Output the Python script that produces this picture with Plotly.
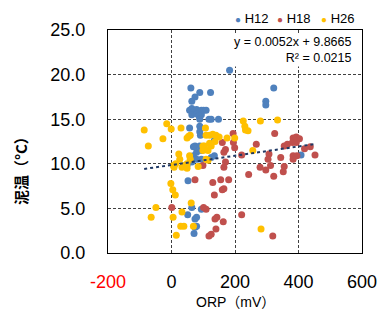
import plotly.graph_objects as go

# ---- data ----
h12_x = [183, 61, 89, 123, 74, 64, 57, 64, 71, 79, 86, 94, 101, 109, 64, 79, 94, 86,
         89, 118, 125, 148, 322, 297, 297, 57, 89, 89, 91, 135, 69, 74, 89, 79, 69, 79,
         94, 94, 135, 125, 49, 64, 408, 52, 64, 51, 74, 79, 74, 71, 94, 79]
h12_y = [20.5, 18.5, 18.0, 18.0, 17.5, 17.0, 16.0, 16.2, 15.9, 16.1, 15.9, 16.0, 16.0, 16.0,
         15.5, 15.6, 15.5, 15.4, 15.0, 15.0, 15.0, 15.0, 18.5, 17.0, 16.6, 14.0, 14.2, 13.6,
         13.2, 12.6, 11.9, 12.0, 12.0, 11.3, 10.9, 10.5, 10.5, 11.5, 10.9, 10.7, 9.8, 10.2,
         11.0, 8.1, 5.1, 4.3, 3.8, 4.0, 2.9, 2.2, 4.9, 3.0]

h18_x = [194, 325, 383, 393, 403, 381, 393, 365, 355, 267, 195, 160, 170, 199, 419, 437,
         452, 344, 383, 395, 383, 307, 304, 221, 165, 170, 99, 312, 297, 355, 352, 322,
         279, 243, 74, 130, 155, 180, 160, 165, 135, 165, 1, 101, 109, 143, 137, 163, 140,
         125, 118, 221, 319]
h18_y = [13.4, 13.4, 12.9, 13.0, 12.8, 12.4, 12.4, 12.2, 12.0, 12.2, 12.4, 12.4, 11.6, 11.8,
         11.7, 11.9, 11.0, 10.7, 10.9, 10.9, 10.5, 11.1, 10.5, 11.0, 11.3, 10.2, 9.8, 9.8,
         9.3, 9.7, 9.1, 8.6, 9.6, 8.8, 8.2, 7.9, 8.2, 8.2, 7.1, 7.2, 6.5, 9.6, 5.1, 5.1,
         4.9, 4.0, 3.8, 3.5, 2.7, 2.1, 1.9, 4.3, 1.9]

h26_x = [-86, -73, -27, -15, -1, 30, 49, 59, 54, 23, 26, 57, 59, 226, 280, 334, 231, 233,
         241, 107, 109, 120, 130, 140, 150, 175, 199, 256, 120, 137, 99, 115, 125, 104,
         109, 6, 39, 49, 13, 8, 33, 49, 84, 115, -2, 4, 12, -49, 62, -64, 5, 33, 29, 39,
         69, 15, 282, 99]
h26_y = [13.8, 12.0, 12.8, 14.5, 13.9, 14.0, 12.9, 13.2, 13.1, 11.1, 10.5, 10.9, 10.5, 14.8,
         14.8, 14.9, 14.2, 13.8, 13.7, 14.0, 13.2, 13.2, 13.3, 13.2, 13.0, 12.9, 12.9, 11.5,
         12.3, 12.5, 12.0, 11.5, 12.0, 12.0, 10.5, 9.8, 9.8, 10.0, 10.0, 9.6, 9.6, 9.5, 9.7,
         10.4, 7.8, 7.1, 6.5, 5.1, 5.6, 4.0, 4.0, 4.6, 3.0, 3.0, 3.0, 2.0, 2.7, 11.5]

series_names = ["H12", "H18", "H26"]
series_colors = ["#4F81BD", "#C0504D", "#FFC000"]

trend_slope = 0.0052
trend_intercept = 9.8665

x_ticks = [-200, 0, 200, 400, 600]
x_tick_labels = ["<span style='color:#FF0000'>-200</span>", "0", "200", "400", "600"]
y_ticks = [0, 5, 10, 15, 20, 25]
y_tick_labels = ["0.0", "5.0", "10.0", "15.0", "20.0", "25.0"]

# ---- figure ----
fig = go.Figure()
for xs, ys, name, col in zip([h12_x, h18_x, h26_x], [h12_y, h18_y, h26_y],
                             series_names, series_colors):
    fig.add_trace(go.Scatter(x=xs, y=ys, mode="markers", name=name,
                             marker=dict(color=col, size=7, line=dict(width=0)),
                             showlegend=False))

all_x = h12_x + h18_x + h26_x
tx = [min(all_x), max(all_x)]
ty = [trend_slope * v + trend_intercept for v in tx]
fig.add_trace(go.Scatter(x=tx, y=ty, mode="lines", name="trend",
                         line=dict(color="#1F3864", width=2, dash="dot"),
                         showlegend=False))

base_font = "Liberation Sans, Arial, Noto Sans CJK JP"

# page body has an 8px default margin, so the figure is sized to fit inside it
fig.update_layout(
    width=381, height=304,
    margin=dict(l=100, r=18, t=17, b=59),
    paper_bgcolor="white", plot_bgcolor="white",
    font=dict(family=base_font, color="#000000"),
    showlegend=False,
)
fig.update_xaxes(range=[-200, 600], tickvals=x_ticks, ticktext=x_tick_labels,
                 showgrid=True, gridcolor="#404040", gridwidth=1, griddash="3px,2px",
                 showline=True, linecolor="#000000", linewidth=1.3, mirror=True,
                 zeroline=False, ticks="", tickfont=dict(size=18, family=base_font),
                 ticklabelstandoff=12)
fig.update_yaxes(range=[0, 25], tickvals=y_ticks, ticktext=y_tick_labels,
                 showgrid=True, gridcolor="#404040", gridwidth=1, griddash="3px,2px",
                 showline=True, linecolor="#000000", linewidth=1.3, mirror=True,
                 zeroline=False, ticks="", tickfont=dict(size=18, family=base_font),
                 ticklabelstandoff=18)

# equation box
fig.add_annotation(xref="paper", yref="paper", x=0.9696, y=0.910,
                   xanchor="right", yanchor="middle", align="right",
                   text="y = 0.0052x + 9.8665<br>R² = 0.0215",
                   showarrow=False, bgcolor="white",
                   font=dict(size=12.5, family=base_font, color="#000000"))

# legend
leg_x = [0.4905, 0.6586, 0.830]
for lx, name, col in zip(leg_x, series_names, series_colors):
    fig.add_annotation(xref="paper", yref="paper", x=lx, y=1.051,
                       xanchor="left", yanchor="middle", showarrow=False,
                       text=f"<span style='color:{col};font-size:10px'>●</span> {name}",
                       font=dict(size=13, family=base_font, color="#000000"))

# axis titles
fig.add_annotation(xref="paper", yref="paper", x=0.5, y=-0.218,
                   xanchor="center", yanchor="middle", showarrow=False,
                   text="ORP（mV）",
                   font=dict(size=14, family=base_font, color="#000000"))
fig.add_annotation(xref="paper", yref="paper", x=-0.342, y=0.386,
                   xanchor="center", yanchor="middle", showarrow=False, textangle=-90,
                   text="<b>泥温（°C）</b>",
                   font=dict(size=15, family="Noto Sans CJK JP", color="#000000"))

fig.write_html("out.html")
